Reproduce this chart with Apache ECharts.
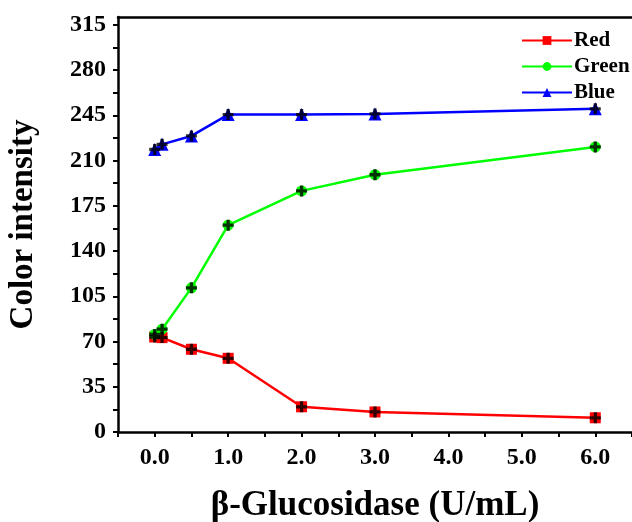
<!DOCTYPE html>
<html>
<head>
<meta charset="utf-8">
<script src="https://cdn.jsdelivr.net/npm/echarts@6/dist/echarts.min.js"></script>
<style>
  html, body { margin: 0; padding: 0; background: #fff; }
  #main { width: 632px; height: 522px; }
</style>
</head>
<body>
<div id="main"></div>
<script>
// enzyme concentration (U/mL)
var conc = [0, 0.1, 0.5, 1.0, 2.0, 3.0, 6.0];
var redVals = [73.5, 73, 64, 57, 19.5, 15.5, 11];
var greenVals = [75.5, 79.5, 111.5, 160, 186.5, 199, 220.5];
var blueVals = [218.5, 222.5, 229, 245.5, 245.5, 246, 250];
var yTicks = [0, 35, 70, 105, 140, 175, 210, 245, 280, 315];

var font = "'Liberation Serif', 'Times New Roman', serif";
var plusPath = "path://M3.5,0H6.5V3.5H10V6.5H6.5V10H3.5V6.5H0V3.5H3.5Z";

function pairs(vals) {
  return conc.map(function (x, i) { return [x, vals[i]]; });
}

function lineSeries(name, color, symbol, vals) {
  return {
    name: name,
    type: "line",
    data: pairs(vals),
    symbol: symbol,
    symbolSize: symbol === "triangle" ? 13 : 11,
    lineStyle: { color: color, width: 2.5 },
    itemStyle: { color: color },
    z: 2,
  };
}

function plusSeries(vals) {
  return {
    type: "scatter",
    data: pairs(vals),
    symbol: plusPath,
    symbolSize: 11,
    itemStyle: { color: "#000" },
    silent: true,
    z: 3,
  };
}

var chart = echarts.init(document.getElementById("main"));
chart.setOption({
  backgroundColor: "#fff",
  animation: false,
  grid: { left: 118, right: 0, top: 17, bottom: 90, outerBoundsMode: "none", containLabel: false },
  legend: {
    left: 516,
    top: 25,
    orient: "vertical",
    itemWidth: 50,
    itemHeight: 11,
    itemGap: 5,
    data: ["Red", "Green", "Blue"],
    textStyle: { fontFamily: font, fontWeight: "bold", fontSize: 21, color: "#000", padding: [0, 0, 0, -3] },
  },
  xAxis: [
    {
      type: "value",
      min: -0.5,
      max: 6.5,
      interval: 0.5,
      name: "β-Glucosidase (U/mL)",
      nameLocation: "middle",
      nameGap: 56,
      nameTextStyle: { fontFamily: font, fontWeight: "bold", fontSize: 35, color: "#000" },
      axisLine: { lineStyle: { color: "#000", width: 2.5 } },
      axisTick: { inside: false, length: 5, lineStyle: { width: 2, color: "#000" } },
      axisLabel: {
        margin: 14,
        fontFamily: font,
        fontWeight: "bold",
        fontSize: 24,
        color: "#000",
        formatter: function (v) {
          return v >= 0 && Math.abs(v - Math.round(v)) < 1e-9 ? v.toFixed(1) : "";
        },
      },
      splitLine: { show: false },
    },
    {
      type: "value",
      position: "top",
      min: -0.5,
      max: 6.5,
      axisLine: { lineStyle: { color: "#000", width: 2.5 } },
      axisTick: { show: false },
      axisLabel: { show: false },
      splitLine: { show: false },
    },
  ],
  yAxis: {
    type: "value",
    min: 0,
    max: 321,
    interval: 17.5,
    name: "Color intensity",
    nameLocation: "middle",
    nameGap: 78,
    nameTextStyle: { fontFamily: font, fontWeight: "bold", fontSize: 33, color: "#000" },
    axisLine: { show: true, onZero: false, lineStyle: { color: "#000", width: 2.5 } },
    axisTick: { inside: false, length: 5, lineStyle: { width: 2, color: "#000" } },
    axisLabel: {
      margin: 12,
      fontFamily: font,
      fontWeight: "bold",
      fontSize: 24,
      color: "#000",
      showMaxLabel: false,
      formatter: function (v) {
        return yTicks.indexOf(v) >= 0 ? String(v) : "";
      },
    },
    splitLine: { show: false },
  },
  series: [
    lineSeries("Red", "#ff0000", "rect", redVals),
    lineSeries("Green", "#00ff00", "circle", greenVals),
    lineSeries("Blue", "#0000ff", "triangle", blueVals),
    plusSeries(redVals),
    plusSeries(greenVals),
    plusSeries(blueVals),
  ],
});
</script>
</body>
</html>
